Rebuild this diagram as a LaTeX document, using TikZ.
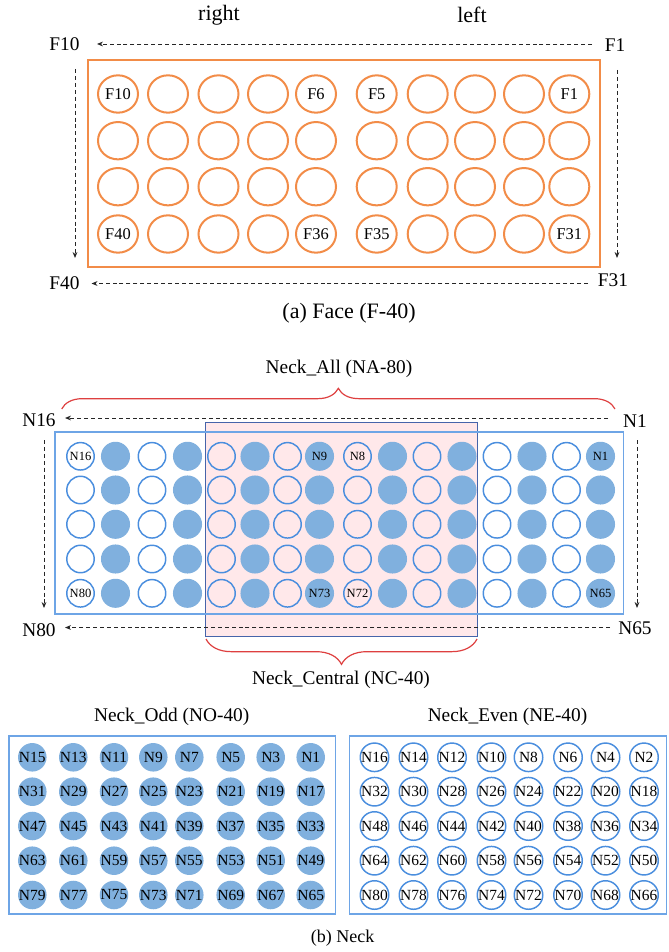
\documentclass[tikz,border=0pt]{standalone}
\usepackage{fontspec}
\setmainfont{Liberation Serif}
\usetikzlibrary{arrows.meta,decorations.pathreplacing,shapes.geometric}
\definecolor{forange}{RGB}{242,140,72}
\definecolor{nfill}{RGB}{128,176,222}
\definecolor{nline}{RGB}{74,142,222}
\definecolor{nrect}{RGB}{110,165,230}
\definecolor{pinkf}{RGB}{255,232,234}
\definecolor{pinkb}{RGB}{70,100,170}
\definecolor{bracered}{RGB}{222,64,64}
\begin{document}
\begin{tikzpicture}[x=0.75pt,y=-0.75pt,
  every node/.style={inner sep=0pt,outer sep=0pt},
  bigtxt/.style={font=\fontsize{14.5}{14.5}\selectfont},
  facetxt/.style={font=\fontsize{16.5}{16.5}\selectfont},
  captb/.style={font=\fontsize{13.5}{13.5}\selectfont},
  fcirc/.style={ellipse,draw=forange,line width=1.5pt,minimum width=30pt,minimum height=28pt},
  flab/.style={font=\fontsize{12.3}{12.3}\selectfont},
  nhollow/.style={circle,draw=nline,line width=1.1pt,minimum size=20.6pt},
  nfilled/.style={circle,fill=nfill,minimum size=21.8pt},
  nlab/.style={font=\fontsize{9.4}{9.4}\selectfont},
  ocirc/.style={circle,fill=nfill,minimum size=21.4pt},
  ecirc/.style={circle,draw=nline,line width=1.1pt,fill=white,minimum size=21.4pt},
  blab/.style={font=\fontsize{11.6}{11.6}\selectfont},
  darrow/.style={draw=black!85,line width=0.65pt,dash pattern=on 3pt off 2.2pt,-{Stealth[length=4.5pt,width=3.6pt]}},
  bracestyle/.style={draw=bracered,line width=0.9pt,decorate},
  orect/.style={draw=forange,line width=1.5pt},
  brect/.style={draw=nrect,line width=1.4pt}
]
\useasboundingbox (0,0) rectangle (668,952);

% ---------------- (a) Face ----------------
\node[facetxt] (tright) at (219,15) {right};
\node[facetxt] (tleft) at (472,15) {left};
\node[bigtxt] (lF10) at (64.5,44) {F10};
\node[bigtxt] (lF1) at (615,45) {F1};
\node[bigtxt] (lF40) at (64.5,283.5) {F40};
\node[bigtxt] (lF31) at (613,280) {F31};
\coordinate (fa1) at (592,44);   \coordinate (fa2) at (97,44);
\coordinate (fb1) at (588,283.5); \coordinate (fb2) at (91.5,283.5);
\coordinate (fc1) at (75,69);    \coordinate (fc2) at (75,258);
\coordinate (fd1) at (617,70);   \coordinate (fd2) at (617,258);
\draw[darrow] (fa1) -- (fa2);
\draw[darrow] (fb1) -- (fb2);
\draw[darrow] (fc1) -- (fc2);
\draw[darrow] (fd1) -- (fd2);
\draw[orect] (88,60) rectangle (599.5,267);
\foreach \x [count=\c] in {118,168,218.5,268,316,376.7,427.7,475,524,569.3}{
  \foreach \y [count=\r] in {94,140.7,186.7,234}{
    \pgfmathtruncatemacro{\idx}{(\r-1)*10+11-\c}
    \node[fcirc] (f\idx) at (\x,\y) {};
  }
}
\foreach \i in {10,6,5,1,40,36,35,31}{
  \node[flab] (tf\i) at (f\i) {F\i};
}
\node[facetxt] (capa) at (349,313) {(a) Face (F-40)};

% ---------------- (b) Neck (all) ----------------
\node[bigtxt] (tNA) at (339,369) {Neck\_All (NA-80)};
\coordinate (bra1) at (61.7,409); \coordinate (bra2) at (615,409);
\draw[bracestyle,decoration={brace,amplitude=15.5pt}] (bra1) -- (bra2);
\draw[fill=pinkf,draw=pinkb,line width=0.6pt] (205.5,422.7) rectangle (477,636);
\draw[brect] (55.3,432.3) rectangle (623.5,614);
\foreach \x [count=\c] in {80.5,115.5,152,187.5,221.5,255,287.5,319.5,357.5,392.5,427,462,497,532,566.5,600.5}{
  \foreach \y [count=\r] in {456.3,490,524.3,559,593.3}{
    \pgfmathtruncatemacro{\idx}{(\r-1)*16+17-\c}
    \ifodd\c \def\st{nhollow}\else\def\st{nfilled}\fi
    \node[\st] (n\idx) at (\x,\y) {};
  }
}
\foreach \i in {16,9,8,1,80,73,72,65}{
  \node[nlab] (tn\i) at (n\i) {N\i};
}
\node[bigtxt] (lN16) at (39,420) {N16};
\node[bigtxt] (lN1) at (635,421.5) {N1};
\node[bigtxt] (lN80) at (39,630) {N80};
\node[bigtxt] (lN65) at (635,628) {N65};
\coordinate (na1) at (608,418);   \coordinate (na2) at (65,418);
\coordinate (nb1) at (610,627.5); \coordinate (nb2) at (65,627.5);
\coordinate (nc1) at (44,440);    \coordinate (nc2) at (44,608);
\coordinate (nd1) at (637,440);   \coordinate (nd2) at (637,608);
\draw[darrow] (na1) -- (na2);
\draw[darrow] (nb1) -- (nb2);
\draw[darrow] (nc1) -- (nc2);
\draw[darrow] (nd1) -- (nd2);
\coordinate (brb1) at (206,639); \coordinate (brb2) at (477,639);
\draw[bracestyle,decoration={brace,mirror,amplitude=19pt}] (brb1) -- (brb2);
\node[bigtxt] (tNC) at (341,680) {Neck\_Central (NC-40)};

% ---------------- Odd / Even ----------------
\node[bigtxt] (tNO) at (171.7,716.7) {Neck\_Odd (NO-40)};
\node[bigtxt] (tNE) at (507.5,717) {Neck\_Even (NE-40)};
\draw[brect] (9.3,736) rectangle (335.5,914);
\draw[brect] (349.5,736) rectangle (666.5,914);
\foreach \x [count=\c] in {32.3,73.3,114,153.3,189.3,230.7,270.7,310.7}{
  \foreach \y [count=\r] in {757.3,791.7,826,860.7,895}{
    \pgfmathtruncatemacro{\idx}{(\r-1)*16+17-2*\c}
    \node[ocirc,blab] (o\idx) at (\x,\y) {N\idx};
  }
}
\foreach \x [count=\c] in {374.5,413.5,452,491.5,528.5,568,605.5,644}{
  \foreach \y [count=\r] in {757.3,791.7,826,860.7,895}{
    \pgfmathtruncatemacro{\idx}{(\r-1)*16+18-2*\c}
    \node[ecirc,blab] (e\idx) at (\x,\y) {N\idx};
  }
}
\node[captb] (capb) at (342.6,938) {(b) Neck};
\end{tikzpicture}
\end{document}
